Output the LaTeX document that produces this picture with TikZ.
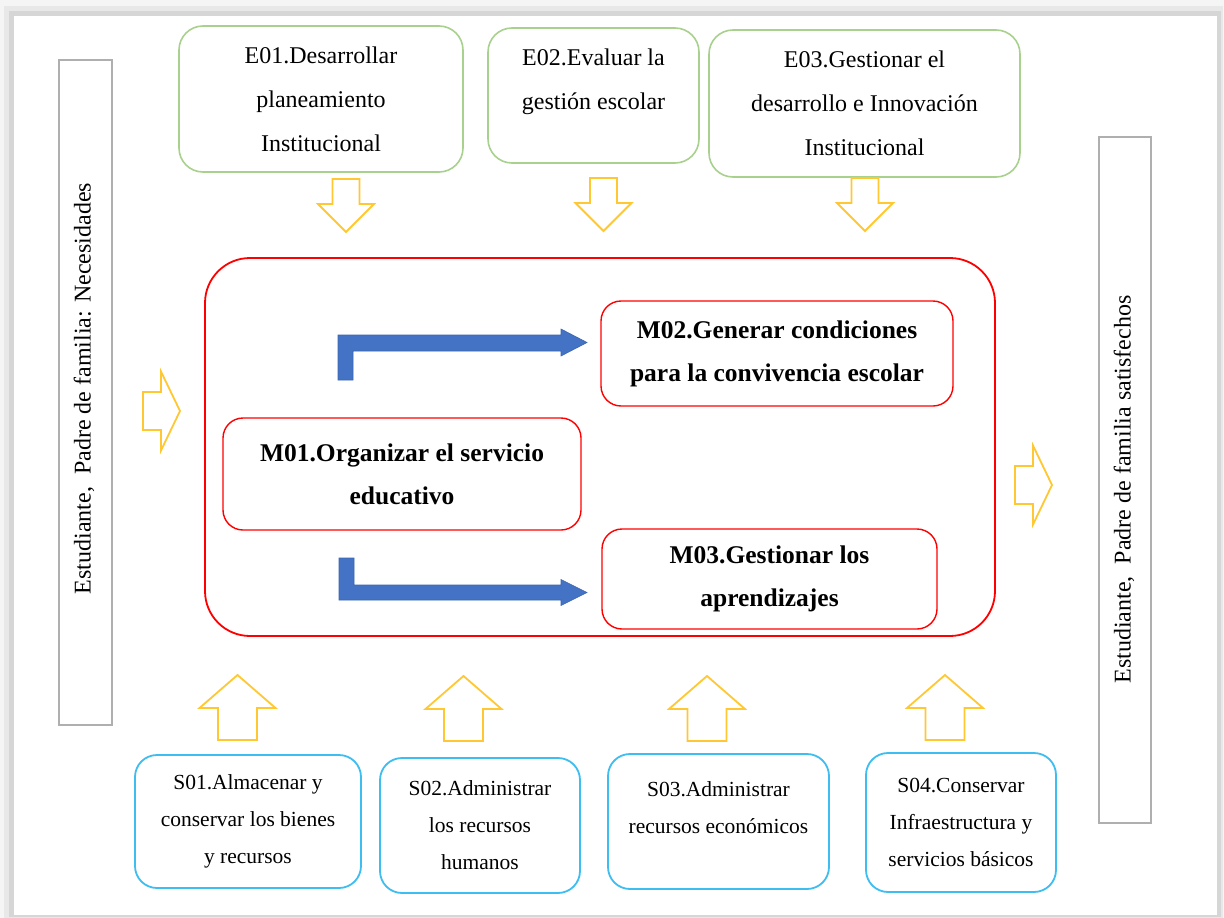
\documentclass[tikz,border=0pt]{standalone}
\usepackage{fontspec}
\setmainfont{Liberation Serif}
\definecolor{egreen}{HTML}{A9D18E}
\definecolor{mred}{HTML}{FF0000}
\definecolor{sblue}{HTML}{3DBDF0}
\definecolor{yarrc}{HTML}{FFC833}
\definecolor{barrc}{HTML}{4472C4}
\definecolor{bedge}{HTML}{3A65B0}
\definecolor{gline}{HTML}{AFAFAF}
\begin{document}
\begin{tikzpicture}[x=1pt,y=-1pt,
  ebox/.style={draw=egreen, line width=1.6pt, rounded corners=24pt, align=center, inner sep=0pt, font=\fontsize{24}{44}\selectfont},
  etext/.style={align=center, inner sep=0pt, font=\fontsize{24}{44}\selectfont},
  sbox/.style={draw=sblue, line width=1.8pt, rounded corners=22pt, align=center, inner sep=0pt, font=\fontsize{21.5}{37}\selectfont},
  stext/.style={align=center, inner sep=0pt, font=\fontsize{21.5}{37}\selectfont},
  mbox/.style={draw=mred, line width=1.4pt, rounded corners=20pt, align=center, inner sep=0pt, font=\bfseries\fontsize{25.5}{43}\selectfont},
  bigred/.style={draw=mred, line width=1.8pt, rounded corners=45pt, inner sep=0pt},
  gbox/.style={draw=gline, line width=1.6pt, inner sep=0pt},
  vtext/.style={rotate=90, inner sep=0pt, font=\fontsize{24}{30}\selectfont},
  yarr/.style={draw=yarrc, line width=1.8pt, fill=white, line join=miter},
  barr/.style={fill=barrc, draw=bedge, line width=0.6pt},
  downarr/.pic={\draw[yarr] (-13.5,0) -- (13.5,0) -- (13.5,25) -- (28,25) -- (0,53) -- (-28,25) -- (-13.5,25) -- cycle;},
  uparr/.pic={\draw[yarr] (0,0) -- (38,33) -- (19.5,33) -- (19.5,65) -- (-19.5,65) -- (-19.5,33) -- (-38,33) -- cycle;},
  rightarr/.pic={\draw[yarr] (0,-19) -- (18,-19) -- (18,-39.5) -- (37,0) -- (18,39.5) -- (18,19) -- (0,19) -- cycle;}
]
% frame with shadow
\fill[gray!8] (0,0) rectangle (1224,918);
\fill[gray!18] (4,6) rectangle (1223,918);
\fill[gray!32] (9,11) rectangle (1221,917);
\fill[white] (14,16) rectangle (1217,915);
\useasboundingbox (0,0) rectangle (1224,918);

% side boxes
\node[gbox, minimum width=53, minimum height=665] (IN) at (85.5,392.5) {};
\node[vtext] (INt) at (84,388.5) {Estudiante,\ \ Padre de familia: Necesidades};
\node[gbox, minimum width=52, minimum height=686] (OUT) at (1125,480) {};
\node[vtext] (OUTt) at (1124,489.5) {Estudiante,\ \ Padre de familia satisfechos};

% strategic boxes
\node[ebox, minimum width=284, minimum height=146] (E01) at (321,99) {E01.Desarrollar\\planeamiento\\Institucional};
\node[ebox, minimum width=211, minimum height=135] (E02) at (593.5,95.5) {};
\node[etext] (E02t) at (593.5,82) {E02.Evaluar la\\gesti\'on escolar};
\node[ebox, minimum width=311, minimum height=147] (E03) at (864.5,103.5) {E03.Gestionar el\\desarrollo e Innovaci\'on\\Institucional};

% down arrows
\pic at (346,179) {downarr};
\pic at (603.5,178) {downarr};
\pic at (865,178) {downarr};

% central container
\node[bigred, minimum width=790, minimum height=378] (MAIN) at (600,447) {};
\node[mbox, minimum width=352, minimum height=105] (M02) at (777,353.5) {M02.Generar condiciones\\para la convivencia escolar};
\node[mbox, minimum width=358, minimum height=112] (M01) at (402,474) {M01.Organizar el servicio\\educativo};
\node[mbox, minimum width=335, minimum height=100] (M03) at (769.5,579) {M03.Gestionar los\\aprendizajes};

% blue bent arrows
\filldraw[barr] (338,380) -- (338,335) -- (561,335) -- (561,329) -- (587,342.5) -- (561,356) -- (561,351) -- (353,351) -- (353,380) -- cycle;
\filldraw[barr] (339,558) -- (339,600) -- (561,600) -- (561,605.5) -- (587,592.5) -- (561,579.5) -- (561,585) -- (354,585) -- (354,558) -- cycle;

% side arrows
\pic at (143,411) {rightarr};
\pic at (1015,485) {rightarr};

% up arrows
\pic at (237.5,675) {uparr};
\pic at (463.5,676) {uparr};
\pic at (707,676) {uparr};
\pic at (945,675) {uparr};

% support boxes
\node[sbox, minimum width=226, minimum height=133] (S01) at (248,821.5) {S01.Almacenar y\\conservar los bienes\\y recursos};
\node[sbox, minimum width=200, minimum height=135] (S02) at (480,825.5) {S02.Administrar\\los recursos\\humanos};
\node[sbox, minimum width=221, minimum height=135] (S03) at (718.5,821.5) {};
\node[stext] (S03t) at (718.5,808) {S03.Administrar\\recursos econ\'omicos};
\node[sbox, minimum width=190, minimum height=139] (S04) at (961,822.5) {S04.Conservar\\Infraestructura y\\servicios b\'asicos};
\end{tikzpicture}
\end{document}
